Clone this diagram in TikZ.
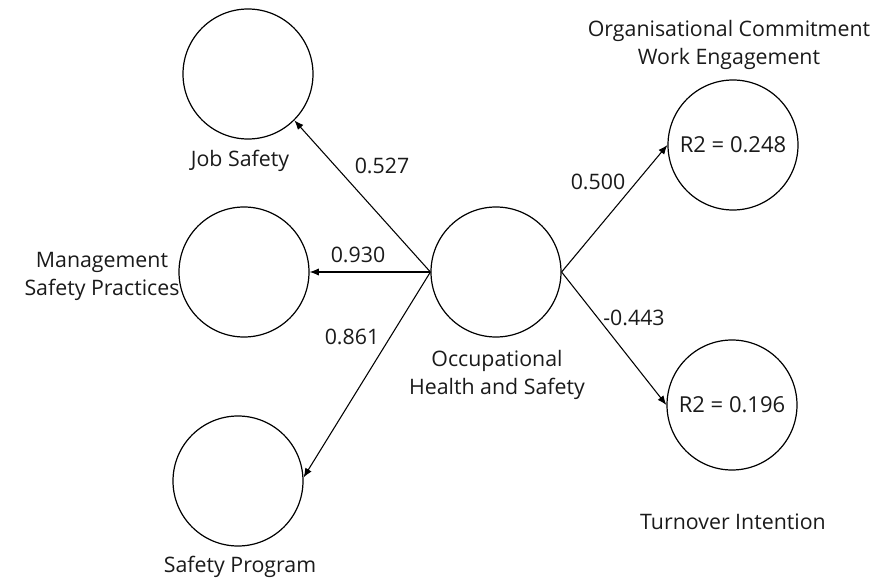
\documentclass[tikz,border=0pt]{standalone}
\usepackage{fontspec}
\setmainfont{Open Sans}
\usetikzlibrary{arrows.meta}
\definecolor{txt}{HTML}{1A1A1A}
\begin{document}
\begin{tikzpicture}[x=0.75pt,y=-0.75pt,
  lv/.style={circle,draw,line width=0.9pt,minimum size=97.5pt,inner sep=0pt,text=txt,font=\fontsize{16.5}{19}\selectfont},
  lbl/.style={align=center,text=txt,font=\fontsize{16}{21}\selectfont,inner sep=1pt},
  path/.style={line width=0.8pt,-{Latex[length=7pt,width=5.5pt]}},
  coef/.style={text=txt,font=\fontsize{16}{19}\selectfont,inner sep=1pt}]
\useasboundingbox (0,0) rectangle (879,581);
\node[lv] (js) at (248,74) {};
\node[lv] (ms) at (244,272) {};
\node[lv] (sp) at (238,481) {};
\node[lv] (ohs) at (496,272) {};
\node[lv] (oc) at (733,145) {R2 = 0.248};
\node[lv] (ti) at (732,405) {R2 = 0.196};
\node[lbl] (jsl) at (240,161) {Job Safety};
\node[lbl] (msl) at (102,276) {Management\\Safety Practices};
\node[lbl] (spl) at (240,567) {Safety Program};
\node[lbl] (ohsl) at (497,375) {Occupational\\Health and Safety};
\node[lbl] (ocl) at (729,45) {Organisational Commitment\\Work Engagement};
\node[lbl] (til) at (733,522) {Turnover Intention};
\draw[path] (ohs.west) -- (js.-45);
\draw[path] (ohs.west) -- (ms.east);
\draw[path] (ohs.west) -- (sp.3);
\draw[path] (ohs.east) -- (oc.west);
\draw[path] (ohs.east) -- (ti.west);
\node[coef] (c1) at (382,166) {0.527};
\node[coef] (c2) at (358,255) {0.930};
\node[coef] (c3) at (352,337) {0.861};
\node[coef] (c4) at (598,182) {0.500};
\node[coef] (c5) at (634,318) {-0.443};
\end{tikzpicture}
\end{document}
